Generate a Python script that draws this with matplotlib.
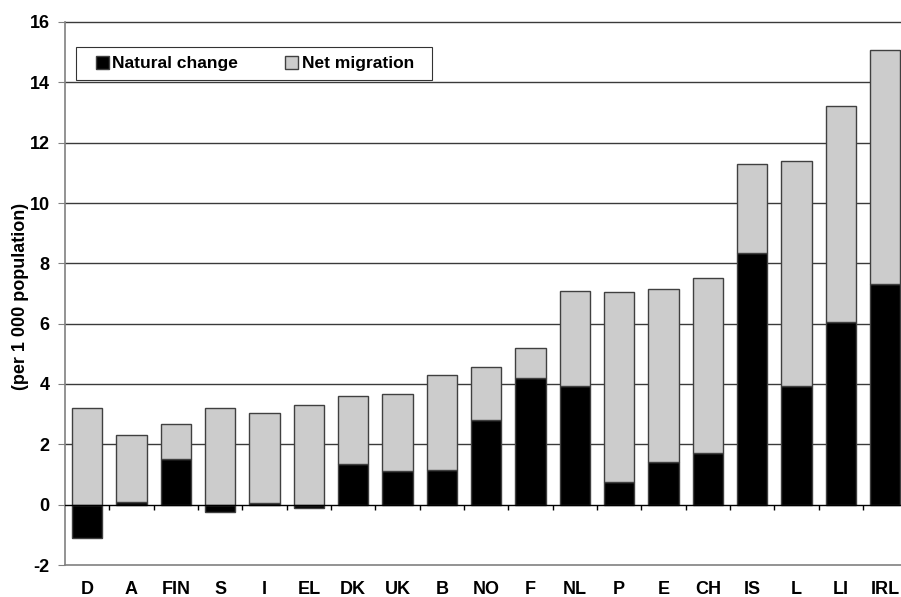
import numpy as np
import matplotlib
matplotlib.use("Agg")
import matplotlib.pyplot as plt
from matplotlib.patches import Patch, Rectangle
from matplotlib.legend_handler import HandlerPatch

plt.rcParams['font.family'] = ['Liberation Sans', 'DejaVu Sans']
plt.rcParams['font.weight'] = 'bold'

countries = ["D", "A", "FIN", "S", "I", "EL", "DK", "UK", "B", "NO", "F", "NL",
             "P", "E", "CH", "IS", "L", "LI", "IRL"]
natural_change = [-1.1, 0.08, 1.5, -0.24, 0.07, -0.12, 1.34, 1.12, 1.15, 2.81, 4.2, 3.94,
                  0.76, 1.42, 1.71, 8.35, 3.94, 6.06, 7.30]
net_migration = [3.2, 2.24, 1.18, 3.22, 2.96, 3.32, 2.25, 2.56, 3.14, 1.77, 0.99, 3.13,
                 6.29, 5.73, 5.82, 2.93, 7.44, 7.16, 7.77]
yticks = [-2, 0, 2, 4, 6, 8, 10, 12, 14, 16]

fig = plt.figure(figsize=(9.01, 5.97), dpi=100)
ax = fig.add_axes([65/901, 32/597, 1 - 65/901, (565-22)/597])

x = np.arange(len(countries))
nat = np.array(natural_change)
mig = np.array(net_migration)
w = 0.68

ax.bar(x, nat, width=w, color='black', edgecolor='#404040', linewidth=1, zorder=3)
ax.bar(x, mig, width=w, bottom=np.maximum(nat, 0), color='#cccccc',
       edgecolor='#404040', linewidth=1, zorder=3)

ax.set_ylim(-2, 16)
ax.set_xlim(-0.5, (901 - 65) / 44.33 - 0.5)
ax.set_yticks(yticks)
ax.set_yticklabels([str(v) for v in yticks], fontsize=13, fontweight='bold')
for v in yticks[2:]:
    ax.axhline(v, color='#3a3a3a', linewidth=1, zorder=1, clip_on=False)
ax.axhline(0, color='black', linewidth=1, zorder=4)
ax.vlines(x[:-1] + 0.5, -0.17, 0, color='black', linewidth=1, zorder=4)

ax.set_xticks(x)
ax.set_xticklabels(countries, fontsize=13, fontweight='bold')
ax.tick_params(axis='x', length=0, pad=11.5)
ax.tick_params(axis='y', length=5, direction='out', color='#808080', pad=6)

for s in ['top', 'right']:
    ax.spines[s].set_visible(False)
ax.spines['left'].set_color('#808080')
ax.spines['bottom'].set_color('#808080')
ax.spines['left'].set_linewidth(1.2)
ax.spines['bottom'].set_linewidth(1.2)

ax.set_ylabel("(per 1 000 population)", fontsize=13, fontweight='bold')
ax.yaxis.set_label_coords((29 - 65) / 836, (565 - 296) / 543)


def right_square(legend, orig_handle, xdescent, ydescent, width, height, fontsize):
    s = 13 * 72 / 100.0
    return Rectangle((width - s - xdescent, (height - s) / 2 - ydescent), s, s)


handles = [Patch(facecolor='black', edgecolor='#404040', label='Natural change'),
           Patch(facecolor='#cccccc', edgecolor='#404040', label='Net migration  ')]
leg = ax.legend(handles=handles, ncol=2, loc='upper left',
                bbox_to_anchor=((76-65)/836, (565-47)/543),
                frameon=True, fancybox=False, edgecolor='black',
                prop={'size': 12.5, 'weight': 'bold'}, handlelength=1.4, handleheight=0.8,
                handletextpad=0.2, columnspacing=2.05, borderpad=0.5, borderaxespad=0,
                handler_map={Patch: HandlerPatch(patch_func=right_square)})
leg.get_frame().set_linewidth(0.8)
leg.set_zorder(5)

fig.savefig("out.png", dpi=100, facecolor='white')
